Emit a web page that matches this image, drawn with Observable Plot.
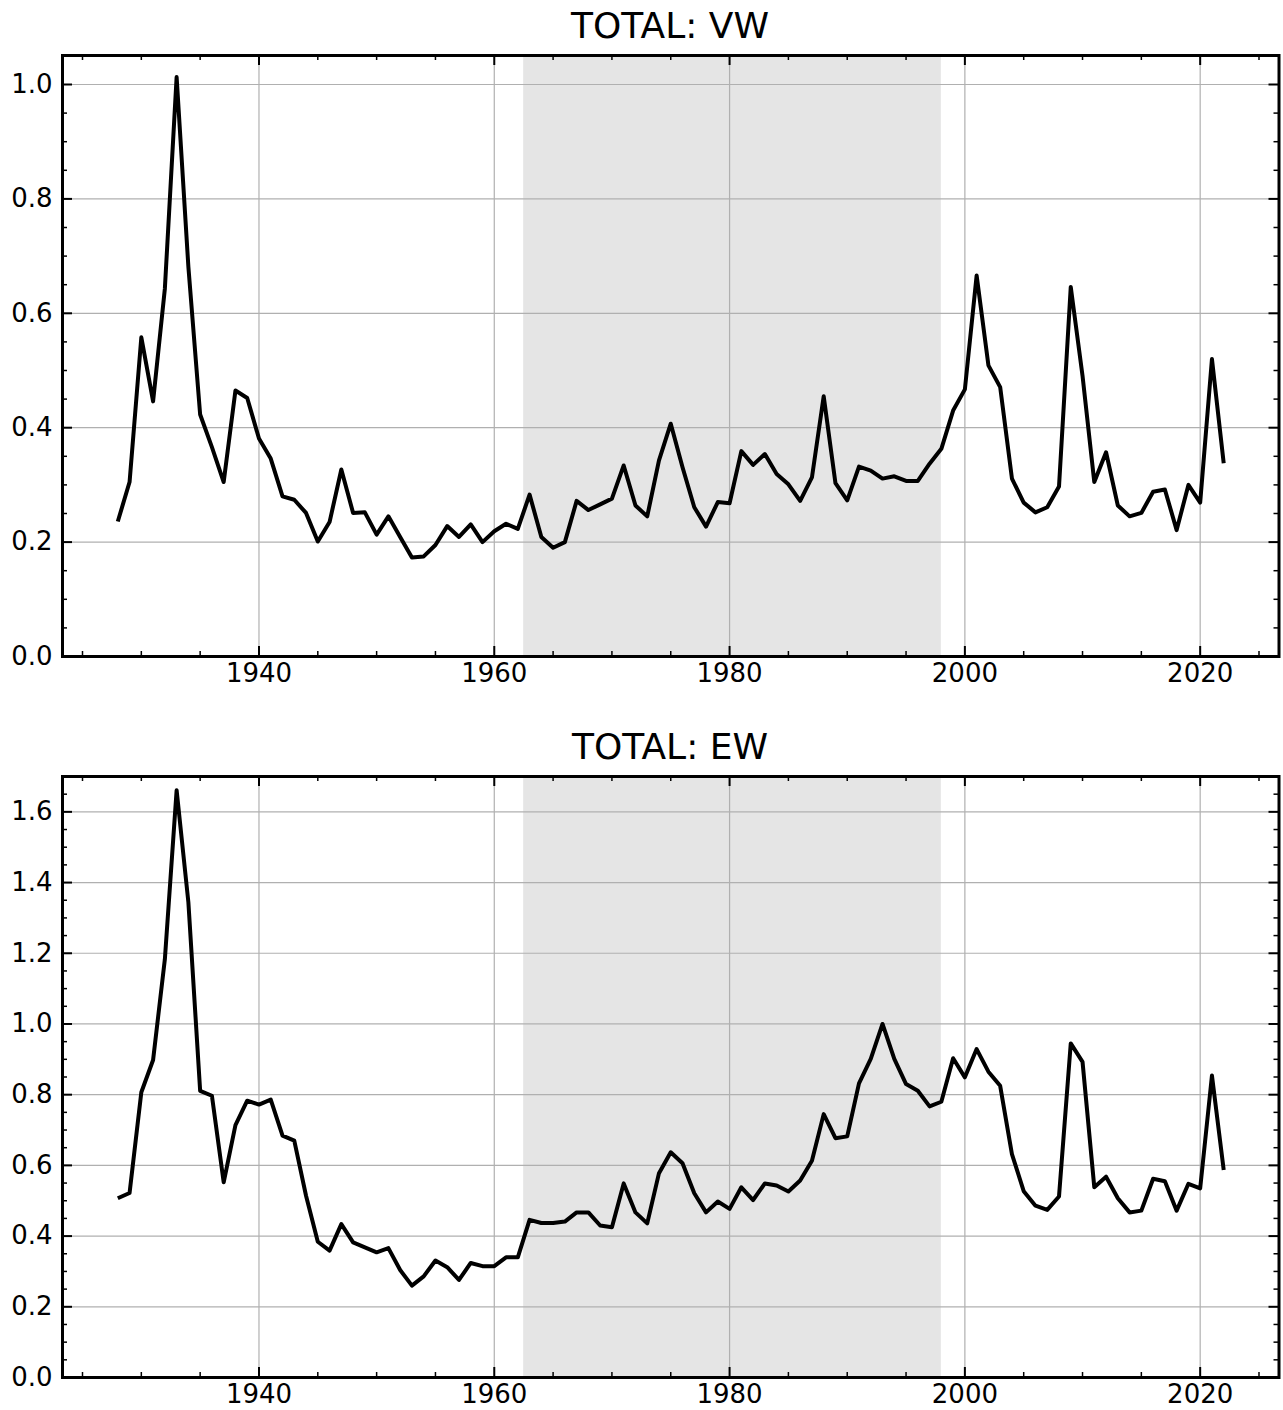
<!DOCTYPE html>
<html>
<head>
<meta charset="utf-8">
<script src="https://cdn.jsdelivr.net/npm/d3@7"></script>
<script src="https://cdn.jsdelivr.net/npm/@observablehq/plot@0.6"></script>
<style>
  html, body { margin: 0; padding: 0; background: #fff; }
  #wrap { position: relative; width: 1283px; height: 1410px; overflow: hidden; font-family: "DejaVu Sans", sans-serif; }
  .title { position: absolute; left: 62px; width: 1216px; text-align: center; font-size: 36px; line-height: 36px; height: 36px; color: #000; white-space: nowrap; }
  .panel { position: absolute; left: 0; }
</style>
</head>
<body>
<div id="wrap">
  <div class="title" id="t1" style="top:8px">TOTAL: VW</div>
  <div class="panel" id="p1" style="top:45px"></div>
  <div class="title" id="t2" style="top:729px">TOTAL: EW</div>
  <div class="panel" id="p2" style="top:766px"></div>
</div>
<script>
// ---- data ----
const years = [
  1928, 1929,
  1930, 1931, 1932, 1933, 1934, 1935, 1936, 1937, 1938, 1939,
  1940, 1941, 1942, 1943, 1944, 1945, 1946, 1947, 1948, 1949,
  1950, 1951, 1952, 1953, 1954, 1955, 1956, 1957, 1958, 1959,
  1960, 1961, 1962, 1963, 1964, 1965, 1966, 1967, 1968, 1969,
  1970, 1971, 1972, 1973, 1974, 1975, 1976, 1977, 1978, 1979,
  1980, 1981, 1982, 1983, 1984, 1985, 1986, 1987, 1988, 1989,
  1990, 1991, 1992, 1993, 1994, 1995, 1996, 1997, 1998, 1999,
  2000, 2001, 2002, 2003, 2004, 2005, 2006, 2007, 2008, 2009,
  2010, 2011, 2012, 2013, 2014, 2015, 2016, 2017, 2018, 2019,
  2020, 2021, 2022
];

const totalVW = [
  0.236, 0.305,
  0.558, 0.446, 0.643, 1.013, 0.681, 0.423, 0.366, 0.305, 0.465, 0.452,
  0.381, 0.346, 0.280, 0.274, 0.251, 0.201, 0.235, 0.327, 0.251, 0.252,
  0.213, 0.245, 0.209, 0.173, 0.175, 0.195, 0.228, 0.209, 0.231, 0.200,
  0.219, 0.232, 0.223, 0.283, 0.209, 0.190, 0.200, 0.272, 0.256, 0.266,
  0.276, 0.334, 0.264, 0.245, 0.343, 0.407, 0.331, 0.261, 0.227, 0.270,
  0.268, 0.359, 0.335, 0.354, 0.319, 0.301, 0.272, 0.313, 0.455, 0.303,
  0.273, 0.332, 0.325, 0.311, 0.315, 0.307, 0.307, 0.337, 0.363, 0.430,
  0.467, 0.666, 0.509, 0.471, 0.311, 0.269, 0.252, 0.261, 0.297, 0.646,
  0.491, 0.305, 0.357, 0.264, 0.245, 0.251, 0.288, 0.292, 0.221, 0.300,
  0.269, 0.520, 0.338
];

const totalEW = [
  0.507, 0.522,
  0.807, 0.898, 1.183, 1.661, 1.344, 0.811, 0.797, 0.552, 0.714, 0.783,
  0.772, 0.786, 0.684, 0.670, 0.514, 0.384, 0.359, 0.434, 0.382, 0.368,
  0.354, 0.366, 0.304, 0.260, 0.286, 0.331, 0.312, 0.276, 0.324, 0.315,
  0.315, 0.340, 0.340, 0.446, 0.437, 0.437, 0.441, 0.467, 0.467, 0.430,
  0.425, 0.549, 0.467, 0.436, 0.578, 0.637, 0.606, 0.521, 0.467, 0.498,
  0.477, 0.538, 0.502, 0.549, 0.543, 0.526, 0.557, 0.613, 0.745, 0.677,
  0.682, 0.832, 0.901, 1.000, 0.901, 0.830, 0.811, 0.767, 0.780, 0.903,
  0.849, 0.929, 0.865, 0.825, 0.632, 0.527, 0.486, 0.474, 0.512, 0.945,
  0.893, 0.538, 0.568, 0.507, 0.467, 0.472, 0.562, 0.555, 0.472, 0.548,
  0.535, 0.854, 0.587
];

// shaded period
const shadeStart = 1962.5;
const shadeEnd = 1998;

// ticks
const xMajor = [1940, 1960, 1980, 2000, 2020];
const xMinor = [1925, 1930, 1935, 1945, 1950, 1955, 1965, 1970, 1975, 1985, 1990, 1995, 2005, 2010, 2015, 2025];
const yMajorVW = [0, 0.2, 0.4, 0.6, 0.8, 1.0];
const yMajorEW = [0, 0.2, 0.4, 0.6, 0.8, 1.0, 1.2, 1.4, 1.6];
const yMinorVW = [0.05, 0.1, 0.15, 0.25, 0.3, 0.35, 0.45, 0.5, 0.55, 0.65, 0.7, 0.75, 0.85, 0.9, 0.95, 1.05];
const yMinorEW = [0.05, 0.1, 0.15, 0.25, 0.3, 0.35, 0.45, 0.5, 0.55, 0.65, 0.7, 0.75, 0.85, 0.9, 0.95,
                  1.05, 1.1, 1.15, 1.25, 1.3, 1.35, 1.45, 1.5, 1.55, 1.65];

const xDomain = [1923.3, 2026.7];

function panel({values, yDomain, yMajor, yMinor, height, marginTop, marginBottom}) {
  const W = 1283, marginLeft = 62, marginRight = 4.5;
  const fw = W - marginLeft - marginRight;
  const fh = height - marginTop - marginBottom;
  const rows = years.map((yr, i) => ({year: yr, v: values[i]}));
  const gridStyle = {stroke: "#b0b0b0", strokeOpacity: 1, strokeWidth: 1.2};
  const maj = 10, mnr = 5;
  return Plot.plot({
    width: W, height, marginLeft, marginRight, marginTop, marginBottom,
    style: {fontFamily: "DejaVu Sans, sans-serif", fontSize: "26px", color: "#000", background: "transparent", overflow: "visible"},
    x: {domain: xDomain},
    y: {domain: yDomain},
    marks: [
      Plot.rect([{x1: shadeStart, x2: shadeEnd}], {x1: "x1", x2: "x2", fill: "#e5e5e5"}),
      Plot.gridX(xMajor, gridStyle),
      Plot.gridY(yMajor, gridStyle),
      Plot.line(rows, {x: "year", y: "v", stroke: "#000", strokeWidth: 4, strokeLinejoin: "round", strokeLinecap: "butt"}),
      // inward ticks: bottom & top
      Plot.tickX(xMajor, {stroke: "#000", strokeWidth: 2, insetTop: fh - maj}),
      Plot.tickX(xMajor, {stroke: "#000", strokeWidth: 2, insetBottom: fh - maj}),
      Plot.tickX(xMinor, {stroke: "#000", strokeWidth: 1.5, insetTop: fh - mnr}),
      Plot.tickX(xMinor, {stroke: "#000", strokeWidth: 1.5, insetBottom: fh - mnr}),
      // inward ticks: left & right
      Plot.tickY(yMajor, {stroke: "#000", strokeWidth: 2, insetRight: fw - maj}),
      Plot.tickY(yMajor, {stroke: "#000", strokeWidth: 2, insetLeft: fw - maj}),
      Plot.tickY(yMinor, {stroke: "#000", strokeWidth: 1.5, insetRight: fw - mnr}),
      Plot.tickY(yMinor, {stroke: "#000", strokeWidth: 1.5, insetLeft: fw - mnr}),
      Plot.axisX(xMajor, {tickSize: 0, tickPadding: 7, fontSize: 26, tickFormat: d => String(d), label: null}),
      Plot.axisY(yMajor, {tickSize: 0, tickPadding: 10, fontSize: 26, tickFormat: d => d.toFixed(1), label: null}),
      Plot.frame({stroke: "#000", strokeWidth: 3})
    ]
  });
}

document.getElementById("p1").appendChild(panel({
  values: totalVW, yDomain: [0, 1.0507], yMajor: yMajorVW, yMinor: yMinorVW,
  height: 680, marginTop: 10, marginBottom: 69
}));
document.getElementById("p2").appendChild(panel({
  values: totalEW, yDomain: [0, 1.70], yMajor: yMajorEW, yMinor: yMinorEW,
  height: 644, marginTop: 10, marginBottom: 33
}));
</script>
</body>
</html>
